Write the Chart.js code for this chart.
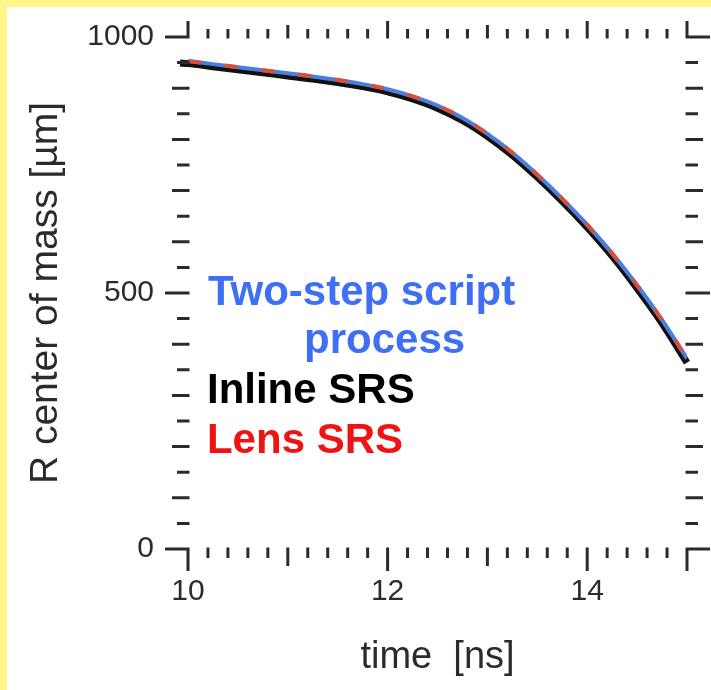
<!DOCTYPE html>
<html>
<head>
<meta charset="utf-8">
<script src="https://cdn.jsdelivr.net/npm/chart.js@4/dist/chart.umd.min.js"></script>
<style>
  html, body { margin: 0; padding: 0; background: #fff785; }
  #caixa { position: absolute; left: 7px; top: 7px; width: 704px; height: 683px; background: #ffffff; }
</style>
</head>
<body>
<div id="caixa"><canvas id="myChart" width="704" height="683"></canvas></div>
<script>
// Dados (tempo em ns, R em µm)
const tempo = [10, 10.25, 10.5, 10.75, 11, 11.25, 11.5, 11.75, 12, 12.25, 12.5,
               12.75, 13, 13.25, 13.5, 13.75, 14, 14.25, 14.5, 14.75, 15];
const twoStep = [953, 947, 941, 935, 929, 923, 916, 908, 898, 884, 866,
                 842, 811, 774, 731, 684, 633, 577, 515, 447, 372];
const lensSrs = [953, 947, 941, 935, 929, 923, 916, 908, 898, 884, 866,
                 842, 811, 774, 731, 684, 633, 577, 515, 447, 372];
const tempoInline = [9.92, 10, 10.25, 10.5, 10.75, 11, 11.25, 11.5, 11.75, 12, 12.25, 12.5,
                     12.75, 13, 13.25, 13.5, 13.75, 14, 14.25, 14.5, 14.75, 15];
const inlineSrs = [949, 948, 942, 936, 930, 924, 918, 911, 903, 893, 879, 861,
                   837, 806, 769, 726, 679, 628, 572, 509, 441, 364];

// Rótulos dos eixos
const xTicks = [10, 12, 14];
const yTicks = [0, 500, 1000];

const fonte = 'Liberation Sans, Arial, Helvetica, sans-serif';
const corEixo = '#2b2b2b';

function pontos(xs, ys) {
    return xs.map((x, i) => ({ x: x, y: ys[i] }));
}

// Marcas dos eixos nos quatro lados (menores e maiores)
const marcas = {
    id: 'marcas',
    afterDraw(chart) {
        const { ctx, chartArea: a, scales: { x, y } } = chart;
        ctx.save();
        ctx.strokeStyle = corEixo;
        ctx.lineWidth = 3;
        ctx.lineCap = 'butt';
        ctx.beginPath();
        for (let v = 0; v <= 1000; v += 50) {
            const py = y.getPixelForValue(v);
            const len = v % 500 === 0 ? 23 : (v % 100 === 0 ? 16 : 11);
            ctx.moveTo(a.left - len, py);
            ctx.lineTo(a.left + 1.5, py);
            ctx.moveTo(a.right - 1.5, py);
            ctx.lineTo(a.right + len, py);
        }
        for (let k = 0; k <= 25; k++) {
            const px = x.getPixelForValue(10 + k * 0.2);
            let cima = 8, baixo = 9;
            if (k % 10 === 0 || k === 25) { cima = 16; baixo = 22; }
            else if (k % 5 === 0) { cima = 12; baixo = 17; }
            ctx.moveTo(px, a.top + 1.5);
            ctx.lineTo(px, a.top - cima);
            ctx.moveTo(px, a.bottom - 1.5);
            ctx.lineTo(px, a.bottom + baixo);
        }
        ctx.stroke();
        ctx.restore();
    }
};

// Textos dentro do gráfico
const textos = {
    id: 'textos',
    afterDatasetsDraw(chart) {
        const { ctx, scales: { x, y } } = chart;
        ctx.save();
        ctx.font = 'bold 42px ' + fonte;
        ctx.textBaseline = 'alphabetic';
        ctx.textAlign = 'left';
        ctx.fillStyle = '#3f6ff2';
        ctx.fillText('Two-step script', x.getPixelForValue(10.2), y.getPixelForValue(476));
        ctx.textAlign = 'center';
        ctx.fillText('process', x.getPixelForValue(11.97), y.getPixelForValue(383));
        ctx.textAlign = 'left';
        ctx.fillStyle = '#000000';
        ctx.fillText('Inline SRS', x.getPixelForValue(10.19), y.getPixelForValue(285));
        ctx.fillStyle = '#ee1414';
        ctx.fillText('Lens SRS', x.getPixelForValue(10.19), y.getPixelForValue(188));
        ctx.restore();
    }
};

const ctx = document.getElementById('myChart').getContext('2d');
const myChart = new Chart(ctx, {
    type: 'line',
    data: {
        datasets: [
            {
                label: 'Lens SRS',
                data: pontos(tempo, lensSrs),
                borderColor: '#d94f3a',
                borderWidth: 4,
                borderDash: [13, 24],
                pointRadius: 0,
                cubicInterpolationMode: 'monotone',
                order: 1
            },
            {
                label: 'Two-step script process',
                data: pontos(tempo, twoStep),
                borderColor: '#4a7fe0',
                borderWidth: 4,
                pointRadius: 0,
                cubicInterpolationMode: 'monotone',
                order: 2
            },
            {
                label: 'Inline SRS',
                data: pontos(tempoInline, inlineSrs),
                borderColor: '#111111',
                borderWidth: 7,
                pointRadius: 0,
                cubicInterpolationMode: 'monotone',
                clip: false,
                order: 3
            }
        ]
    },
    options: {
        responsive: false,
        animation: false,
        events: [],
        layout: {
            padding: { left: 19.5, top: 30, right: 24, bottom: 13 }
        },
        plugins: {
            legend: { display: false },
            tooltip: { enabled: false }
        },
        scales: {
            x: {
                type: 'linear',
                min: 10,
                max: 15,
                afterBuildTicks: (s) => { s.ticks = xTicks.map(v => ({ value: v })); },
                afterFit: (s) => { s.height = 128; },
                grid: { display: false, drawTicks: false },
                border: { display: false },
                ticks: {
                    color: corEixo,
                    font: { family: fonte, size: 30 },
                    padding: 25,
                    maxRotation: 0,
                    autoSkip: false,
                    callback: (v) => String(v)
                },
                title: {
                    display: true,
                    text: 'time  [ns]',
                    color: corEixo,
                    font: { family: fonte, size: 38, lineHeight: 1 },
                    padding: 0
                }
            },
            y: {
                type: 'linear',
                min: 0,
                max: 1000,
                afterBuildTicks: (s) => { s.ticks = yTicks.map(v => ({ value: v })); },
                afterFit: (s) => { s.width = 161.5; },
                // tickLength só afasta os rótulos; as marcas são desenhadas no plugin
                grid: { display: false, drawTicks: true, tickLength: 30 },
                border: { display: false },
                ticks: {
                    color: corEixo,
                    font: { family: fonte, size: 30 },
                    padding: 4,
                    callback: (v) => String(v)
                },
                title: {
                    display: true,
                    text: 'R center of mass [µm]',
                    color: corEixo,
                    font: { family: fonte, size: 39, lineHeight: 1 },
                    padding: 0
                }
            }
        }
    },
    plugins: [marcas, textos]
});
</script>
</body>
</html>
